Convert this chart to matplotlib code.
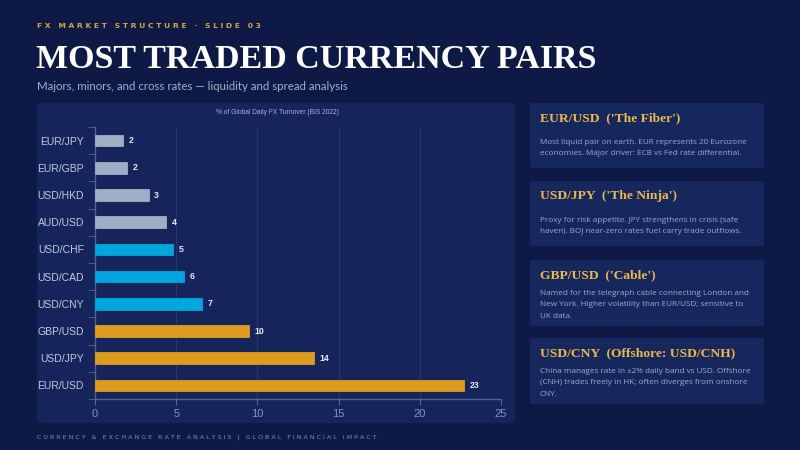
import matplotlib
matplotlib.use("Agg")
import matplotlib.pyplot as plt
from matplotlib.patches import FancyBboxPatch

pairs = ["EUR/USD", "USD/JPY", "GBP/USD", "USD/CNY", "USD/CAD",
         "USD/CHF", "AUD/USD", "USD/HKD", "EUR/GBP", "EUR/JPY"]
turnover = [22.7, 13.5, 9.5, 6.6, 5.5, 4.8, 4.4, 3.3, 2.0, 1.7]
groups = ["major", "major", "major", "mid", "mid", "mid",
          "minor", "minor", "minor", "minor"]
x_ticks = [0, 5, 10, 15, 20, 25]

card_titles = ["EUR/USD  ('The Fiber')", "USD/JPY  ('The Ninja')",
               "GBP/USD  ('Cable')", "USD/CNY  (Offshore: USD/CNH)"]
card_texts = [
    "Most liquid pair on earth. EUR represents 20 Eurozone\neconomies. Major driver: ECB vs Fed rate differential.",
    "Proxy for risk appetite. JPY strengthens in crisis (safe\nhaven). BOJ near-zero rates fuel carry trade outflows.",
    "Named for the telegraph cable connecting London and\nNew York. Higher volatility than EUR/USD; sensitive to\nUK data.",
    "China manages rate in \u00b12% daily band vs USD. Offshore\n(CNH) trades freely in HK; often diverges from onshore\nCNY.",
]

BG = "#0e1a45"
PANEL = "#15245a"
colors = {"major": "#dd9c1e", "mid": "#00a6de", "minor": "#9fadc6"}

W, H = 800, 450
fig = plt.figure(figsize=(8, 4.5), dpi=100, facecolor=BG)


def fx(px):
    return px / W


def fy(py):
    return 1 - py / H


def spaced(s):
    return " ".join(s)


def panel(x0, y0, x1, y1, color, rad=6):
    p = FancyBboxPatch((fx(x0), fy(y1)), fx(x1 - x0), (y1 - y0) / H,
                       boxstyle=f"round,pad=0,rounding_size={rad / W}",
                       transform=fig.transFigure, facecolor=color,
                       edgecolor="none", zorder=-5)
    fig.patches.append(p)


# header
fig.text(fx(37), fy(26), spaced("FX MARKET STRUCTURE \u00b7 SLIDE 03"),
         color="#d9a63a", fontsize=5.4, fontweight="bold",
         family="DejaVu Sans", va="center")
fig.text(fx(36), fy(60), "MOST TRADED CURRENCY PAIRS", color="white",
         fontsize=24.5, fontweight="bold", family="Liberation Serif", va="center")
fig.text(fx(37), fy(87), "Majors, minors, and cross rates \u2014 liquidity and spread analysis",
         color="#a3aed0", fontsize=8.3, family="Lato", va="center")

# chart panel
panel(37, 103, 515, 423, PANEL, rad=8)

ax = fig.add_axes([fx(95), fy(399), fx(501 - 95), (399 - 127) / H])
ax.set_facecolor("none")
bar_colors = [colors[g] for g in groups]
bars = ax.barh(pairs, turnover, height=0.42, color=bar_colors,
               edgecolor=bar_colors, linewidth=0.6, zorder=3)
for b, v in zip(bars, turnover):
    ax.text(v + 0.35, b.get_y() + b.get_height() / 2, f"{v:.0f}",
            color="#e8ecf5", fontsize=6.3, fontweight="bold",
            family="Liberation Sans", va="center", ha="left")

ax.set_xlim(0, 25)
ax.set_ylim(-0.5, len(pairs) - 0.5)
ax.set_xticks(x_ticks)
ax.set_xticklabels([str(t) for t in x_ticks])
ax.grid(axis="x", color="#27376c", linewidth=0.8, zorder=0)
ax.set_yticks([i - 0.5 for i in range(len(pairs) + 1)], minor=True)
ax.tick_params(axis="y", which="major", length=0, pad=8,
               labelsize=7.5, labelcolor="#c3cade")
ax.tick_params(axis="y", which="minor", length=5, color="#55648f")
ax.tick_params(axis="x", length=4, color="#55648f", labelsize=8,
               labelcolor="#8595bf", pad=3)
for lab in ax.get_yticklabels() + ax.get_xticklabels():
    lab.set_family("Liberation Sans")
for side in ["top", "right"]:
    ax.spines[side].set_visible(False)
for side in ["left", "bottom"]:
    ax.spines[side].set_color("#55648f")
    ax.spines[side].set_linewidth(1)

fig.text(fx(277), fy(113), "% of Global Daily FX Turnover (BIS 2022)",
         color="#a9b3d0", fontsize=4.8, family="Liberation Sans",
         ha="center", va="center")

# right-hand cards
card_boxes = [(103, 168), (181, 246), (260, 326), (338, 404)]
for (top, bot), title, body in zip(card_boxes, card_titles, card_texts):
    panel(530, top, 764, bot, "#16275d", rad=3)
    fig.text(fx(540), fy(top + 15), title, color="#e9b949", fontsize=9.7,
             fontweight="bold", family="Liberation Serif", va="center")
    gap = 24 if body.count("\n") == 1 else 18
    fig.text(fx(540), fy(top + 15 + gap - 3), body, color="#9faacb",
             fontsize=5.9, family="Open Sans", va="top", linespacing=1.85)

# footer
fig.text(fx(37), fy(437),
         spaced("CURRENCY & EXCHANGE RATE ANALYSIS") + "   |   " + spaced("GLOBAL FINANCIAL IMPACT"),
         color="#7f8db5", fontsize=4.6, family="DejaVu Sans", va="center")

fig.savefig("out.png", dpi=100, facecolor=BG)
